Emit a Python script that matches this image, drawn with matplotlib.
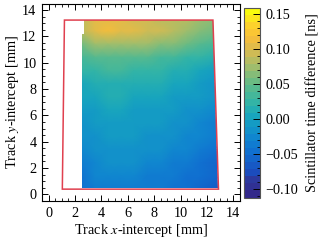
import numpy as np
import matplotlib
matplotlib.use('Agg')
import matplotlib.pyplot as plt
from matplotlib.colors import LinearSegmentedColormap
from matplotlib.patches import Polygon
from matplotlib.ticker import MultipleLocator

plt.rcParams['font.family'] = ['Liberation Serif', 'DejaVu Serif']
plt.rcParams['mathtext.fontset'] = 'stix'
plt.rcParams['font.size'] = 10.3

VMIN, VMAX = -0.112, 0.1586

# rows run top to bottom
grid_x = [2.4, 3.5, 4.5, 5.5, 6.5, 7.5, 8.5, 9.5, 10.5, 11.5, 13.0]
grid_y = [13.4, 12.4, 11.4, 10.4, 9.4, 8.4, 7.4, 6.4, 5.4, 4.4, 3.4, 2.4, 1.4, 0.4]
time_diff = [
    [.080, .100, .105, .100, .095, .090, .088, .085, .080, .072, .065],
    [.080, .105, .110, .105, .100, .095, .090, .085, .078, .068, .055],
    [.052, .070, .078, .078, .072, .070, .068, .062, .054, .044, .032],
    [.032, .040, .044, .044, .042, .040, .038, .034, .028, .020, .010],
    [.020, .026, .030, .030, .026, .024, .022, .018, .012, .005, -.004],
    [.008, .015, .018, .018, .015, .013, .010, .006, .001, -.005, -.012],
    [.000, .007, .009, .009, .007, .004, .002, -.002, -.006, -.011, -.018],
    [-.009, -.002, .000, .000, -.002, -.003, -.006, -.008, -.012, -.018, -.026],
    [-.015, -.007, -.005, -.005, -.006, -.007, -.010, -.012, -.017, -.025, -.032],
    [-.020, -.012, -.010, -.010, -.011, -.012, -.015, -.018, -.023, -.031, -.038],
    [-.026, -.016, -.015, -.015, -.015, -.017, -.020, -.025, -.029, -.037, -.046],
    [-.032, -.022, -.020, -.020, -.021, -.025, -.027, -.032, -.036, -.043, -.052],
    [-.042, -.031, -.026, -.026, -.028, -.032, -.032, -.037, -.043, -.050, -.060],
    [-.048, -.037, -.033, -.033, -.033, -.037, -.039, -.044, -.050, -.056, -.068],
]

# edge of the filled area and the red outline
data_edge_x = [2.5, 12.8, 12.42, 2.66, 2.66, 2.5]
data_edge_y = [0.45, 0.45, 13.2, 13.2, 12.2, 12.2]
outline_x = [1.04, 12.87, 12.45, 1.2]
outline_y = [0.4, 0.4, 13.23, 13.23]

# colour bar as seen in the picture
bar_values = [VMIN, -0.09, -0.08, -0.05, -0.03, 0.0, 0.02, 0.05, 0.08, 0.10, 0.12, 0.14, VMAX]
bar_colors = ['#33288a', '#2c3a9f', '#1a4ec0', '#1070d0', '#1085d0', '#15a3c0', '#2db3aa',
              '#60bb88', '#aabd68', '#d8ba50', '#f8bd3a', '#fed52a', '#f9fb0e']
stops = [(v - VMIN) / (VMAX - VMIN) for v in bar_values]
cmap = LinearSegmentedColormap.from_list('parula', list(zip(stops, bar_colors)), N=27)

fig = plt.figure(figsize=(3.27, 2.41), dpi=100)
ax = fig.add_axes([42 / 327, 1 - 201 / 241, 198 / 327, 197 / 241])
cax = fig.add_axes([243.5 / 327, 1 - 197.5 / 241, 16.5 / 327, 190 / 241])

mesh = ax.pcolormesh(grid_x, grid_y, np.array(time_diff), cmap=cmap, vmin=VMIN, vmax=VMAX,
                     shading='gouraud', rasterized=True)
clip = Polygon(np.column_stack([data_edge_x, data_edge_y]), closed=True, transform=ax.transData,
               fill=False, edgecolor='none')
ax.add_patch(clip)
mesh.set_clip_path(clip)
ax.add_patch(Polygon(np.column_stack([outline_x, outline_y]), closed=True, fill=False,
                     edgecolor='#e0404f', linewidth=1.1))

ax.set_xlim(-0.5, 14.5)
ax.set_ylim(-0.5, 14.45)
ax.xaxis.set_major_locator(MultipleLocator(2))
ax.yaxis.set_major_locator(MultipleLocator(2))
ax.xaxis.set_minor_locator(MultipleLocator(0.5))
ax.yaxis.set_minor_locator(MultipleLocator(0.5))
ax.tick_params(which='major', direction='in', top=True, right=True, length=4.5, width=0.7, pad=4)
ax.tick_params(which='minor', direction='in', top=True, right=True, length=2.3, width=0.6)
ax.set_xlabel('Track $x$-intercept [mm]', labelpad=2)
ax.set_ylabel('Track $y$-intercept [mm]', labelpad=0.5)

cb = fig.colorbar(mesh, cax=cax)
cb.set_ticks([-0.10, -0.05, 0.00, 0.05, 0.10, 0.15])
cb.set_ticklabels(['\u22120.10', '\u22120.05', '0.00', '0.05', '0.10', '0.15'])
cb.ax.yaxis.set_minor_locator(MultipleLocator(0.01))
cb.ax.tick_params(which='major', direction='in', length=5, width=0.7, pad=4)
cb.ax.tick_params(which='minor', direction='in', length=2.5, width=0.6)
cb.outline.set_edgecolor('#555555')
cb.outline.set_linewidth(0.8)
cb.set_label('Scintillator time difference [ns]', labelpad=6)

fig.savefig('out.png', dpi=100)
